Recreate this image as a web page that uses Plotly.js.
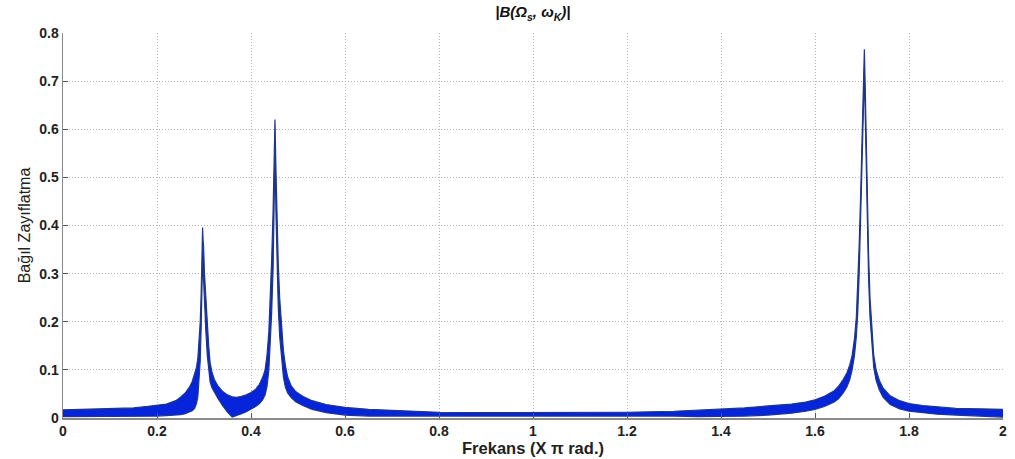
<!DOCTYPE html>
<html>
<head>
<meta charset="utf-8">
<script src="https://cdn.plot.ly/plotly-3.0.1.min.js"></script>
<style>html,body{margin:0;padding:0;background:#fff;}#chart{width:1015px;height:459px;}</style>
</head>
<body>
<div id="chart"></div>
<script>
// Frequency (x pi rad.)
const freq = [0, 0.05, 0.1, 0.15, 0.18, 0.2, 0.22, 0.24, 0.25, 0.26, 0.27, 0.275, 0.28, 0.284, 0.287, 0.29, 0.292, 0.294, 0.296, 0.297, 0.298, 0.299, 0.301, 0.304, 0.307, 0.31, 0.313, 0.317, 0.322, 0.33, 0.34, 0.35, 0.36, 0.37, 0.38, 0.39, 0.4, 0.41, 0.418, 0.425, 0.43, 0.434, 0.438, 0.441, 0.444, 0.447, 0.449, 0.451, 0.453, 0.455, 0.458, 0.461, 0.465, 0.469, 0.473, 0.478, 0.485, 0.495, 0.51, 0.53, 0.56, 0.6, 0.65, 0.7, 0.75, 0.8, 0.9, 1.0, 1.1, 1.2, 1.3, 1.35, 1.4, 1.45, 1.5, 1.55, 1.58, 1.6, 1.62, 1.64, 1.65, 1.66, 1.668, 1.674, 1.679, 1.684, 1.688, 1.691, 1.694, 1.697, 1.7, 1.703, 1.705, 1.707, 1.709, 1.711, 1.714, 1.717, 1.721, 1.725, 1.73, 1.737, 1.745, 1.76, 1.78, 1.8, 1.83, 1.86, 1.9, 1.95, 2.0];
// Upper envelope of |B|
const upperEnv = [0.017, 0.018, 0.019, 0.021, 0.024, 0.026, 0.029, 0.036, 0.043, 0.052, 0.066, 0.076, 0.09, 0.105, 0.125, 0.16, 0.2, 0.26, 0.34, 0.396, 0.37, 0.36, 0.3, 0.24, 0.19, 0.15, 0.115, 0.095, 0.08, 0.066, 0.055, 0.048, 0.044, 0.043, 0.045, 0.048, 0.053, 0.06, 0.07, 0.085, 0.1, 0.13, 0.18, 0.25, 0.33, 0.43, 0.53, 0.62, 0.52, 0.42, 0.32, 0.25, 0.19, 0.14, 0.11, 0.085, 0.068, 0.055, 0.045, 0.036, 0.028, 0.022, 0.018, 0.016, 0.014, 0.012, 0.011, 0.011, 0.011, 0.012, 0.014, 0.016, 0.018, 0.021, 0.025, 0.029, 0.033, 0.038, 0.045, 0.056, 0.066, 0.08, 0.094, 0.11, 0.13, 0.165, 0.21, 0.27, 0.36, 0.46, 0.58, 0.7, 0.766, 0.68, 0.56, 0.46, 0.34, 0.25, 0.18, 0.13, 0.1, 0.078, 0.062, 0.046, 0.036, 0.03, 0.026, 0.023, 0.02, 0.019, 0.018];
// Lower envelope of |B|
const lowerEnv = [0.003, 0.003, 0.003, 0.003, 0.004, 0.004, 0.005, 0.006, 0.007, 0.009, 0.012, 0.015, 0.02, 0.03, 0.045, 0.08, 0.12, 0.19, 0.28, 0.33, 0.31, 0.29, 0.24, 0.18, 0.13, 0.095, 0.075, 0.063, 0.053, 0.04, 0.025, 0.012, 0.002, 0.005, 0.009, 0.013, 0.018, 0.024, 0.03, 0.038, 0.048, 0.065, 0.1, 0.15, 0.22, 0.31, 0.42, 0.55, 0.43, 0.33, 0.23, 0.17, 0.12, 0.085, 0.065, 0.052, 0.043, 0.034, 0.026, 0.018, 0.011, 0.006, 0.004, 0.004, 0.004, 0.004, 0.005, 0.005, 0.005, 0.005, 0.004, 0.003, 0.003, 0.004, 0.006, 0.01, 0.014, 0.018, 0.024, 0.033, 0.04, 0.052, 0.065, 0.08, 0.1, 0.13, 0.17, 0.22, 0.3, 0.4, 0.52, 0.64, 0.72, 0.63, 0.5, 0.4, 0.29, 0.21, 0.15, 0.105, 0.078, 0.058, 0.043, 0.028, 0.019, 0.014, 0.011, 0.008, 0.006, 0.004, 0.002];
const xTicks = [0, 0.2, 0.4, 0.6, 0.8, 1, 1.2, 1.4, 1.6, 1.8, 2];
const xTickText = ['0', '0.2', '0.4', '0.6', '0.8', '1', '1.2', '1.4', '1.6', '1.8', '2'];
const yTicks = [0, 0.1, 0.2, 0.3, 0.4, 0.5, 0.6, 0.7, 0.8];
const yTickText = ['0', '0.1', '0.2', '0.3', '0.4', '0.5', '0.6', '0.7', '0.8'];

const edge = 'rgb(30,55,140)';
const fillc = 'rgb(6,36,218)';
const traces = [
  {x: freq, y: lowerEnv, type: 'scatter', mode: 'lines', line: {color: edge, width: 1.2}, hoverinfo: 'skip', showlegend: false},
  {x: freq, y: upperEnv, type: 'scatter', mode: 'lines', fill: 'tonexty', fillcolor: fillc, line: {color: edge, width: 1.2}, showlegend: false}
];
const fam = 'Liberation Sans, Arial, sans-serif';
const tickFont = {family: fam, size: 14, color: '#222', weight: 'bold'};
const layout = {
  width: 1015, height: 459,
  margin: {l: 63, r: 12, t: 33, b: 41},
  paper_bgcolor: '#fff', plot_bgcolor: '#fff',
  showlegend: false,
  title: {text: '<b><i>|B(Ω<sub>s</sub>, ω<sub>K</sub>)|</i></b>', x: 0.525, xanchor: 'center', y: 0.985, yanchor: 'top', font: {family: fam, size: 15, color: '#111'}},
  xaxis: {
    range: [0, 2], tickvals: xTicks, ticktext: xTickText, tickfont: tickFont,
    showgrid: true, gridcolor: '#b5b5b5', griddash: '1px,2px', gridwidth: 1,
    showline: true, linecolor: '#8a8a8a', linewidth: 1.5,
    ticks: 'inside', ticklen: 5, tickcolor: '#555', zeroline: false,
    title: {text: '<b>Frekans (X π rad.)</b>', standoff: 0, font: {family: fam, size: 16.5, color: '#222'}}
  },
  yaxis: {
    range: [0, 0.8], tickvals: yTicks, ticktext: yTickText, tickfont: tickFont,
    showgrid: true, gridcolor: '#b5b5b5', griddash: '1px,2px', gridwidth: 1,
    showline: true, linecolor: '#8a8a8a', linewidth: 1.5,
    ticks: 'inside', ticklen: 5, tickcolor: '#555', zeroline: false,
    title: {text: 'Bağıl Zayıflatma', standoff: 4, font: {family: fam, size: 16, color: '#222'}}
  }
};
Plotly.newPlot('chart', traces, layout, {displayModeBar: false, staticPlot: true});
</script>
</body>
</html>
